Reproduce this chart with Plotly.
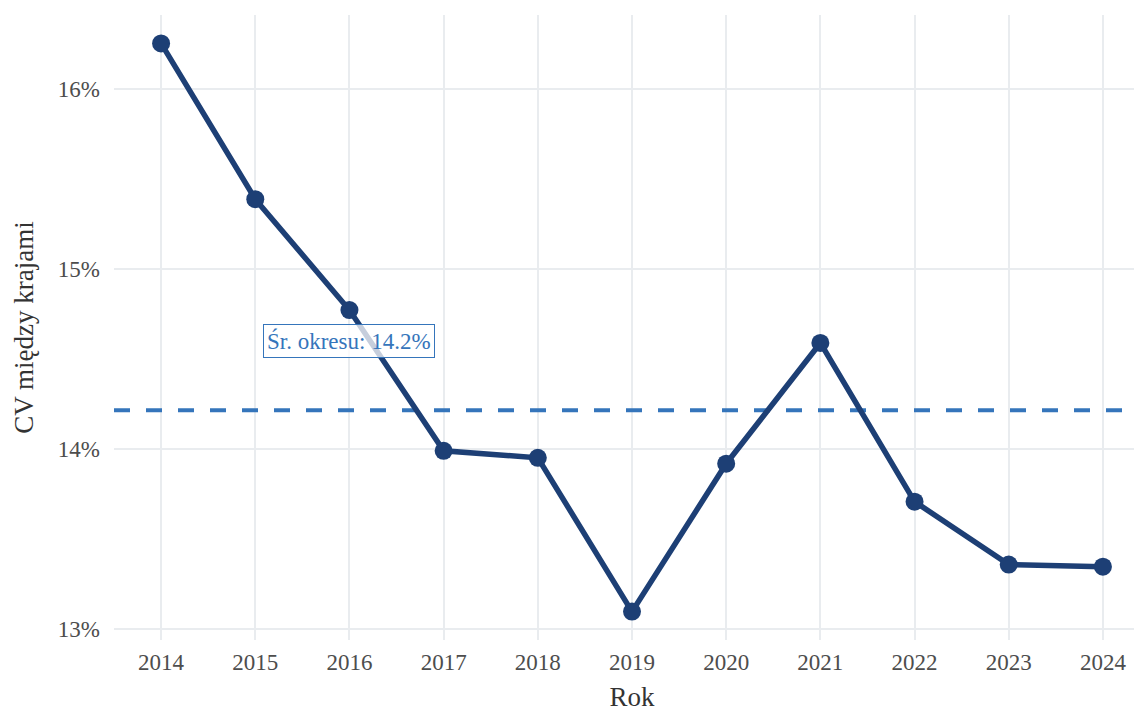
import plotly.graph_objects as go

years = [2014, 2015, 2016, 2017, 2018, 2019, 2020, 2021, 2022, 2023, 2024]
cv_values = [16.256, 15.389, 14.772, 13.989, 13.950, 13.094, 13.917, 14.589, 13.706, 13.356, 13.344]
mean_value = sum(cv_values) / len(cv_values)
y_ticks = [13, 14, 15, 16]
annotation_text = "Śr. okresu: 14.2%"

FONT = "Liberation Serif, Times New Roman, serif"

fig = go.Figure()
fig.add_trace(go.Scatter(
    x=[2013.5, 2024.5], y=[mean_value, mean_value], mode="lines",
    line=dict(color="#3575bb", width=4, dash="16px,16px"), hoverinfo="skip", showlegend=False,
))
fig.add_trace(go.Scatter(
    x=years, y=cv_values, mode="lines+markers",
    line=dict(color="#1d3f75", width=5.5),
    marker=dict(color="#1d3f75", size=18),
    showlegend=False,
))
fig.add_annotation(
    x=2016, y=14.6, text=annotation_text, showarrow=False,
    font=dict(family=FONT, size=23, color="#3575bb"),
    bgcolor="rgba(255,255,255,0.75)", bordercolor="#3575bb", borderwidth=1, borderpad=3,
)

fig.update_layout(
    width=1142, height=711,
    margin=dict(l=106, r=0, t=7, b=79, autoexpand=False),
    paper_bgcolor="white", plot_bgcolor="white",
    font=dict(family=FONT, color="#4d4d4d"),
)
fig.update_xaxes(
    range=[2013.5, 2024.5], tickvals=years, ticktext=[str(y) for y in years],
    showgrid=True, gridcolor="#e9ecef", gridwidth=1.5, zeroline=False, showline=False,
    tickfont=dict(size=23, color="#4d4d4d"), ticklabelstandoff=6,
    title=dict(text="Rok", font=dict(size=27, color="#333333"), standoff=13),
    automargin=False,
)
fig.update_yaxes(
    range=[12.936, 16.414], tickvals=y_ticks, ticktext=[f"{v}%" for v in y_ticks],
    showgrid=True, gridcolor="#e9ecef", gridwidth=1.5, zeroline=False, showline=False,
    tickfont=dict(size=23, color="#4d4d4d"), ticklabelstandoff=13,
    title=dict(text="CV między krajami", font=dict(size=27, color="#333333"), standoff=16),
    automargin=False,
)

fig.write_html("out.html")
